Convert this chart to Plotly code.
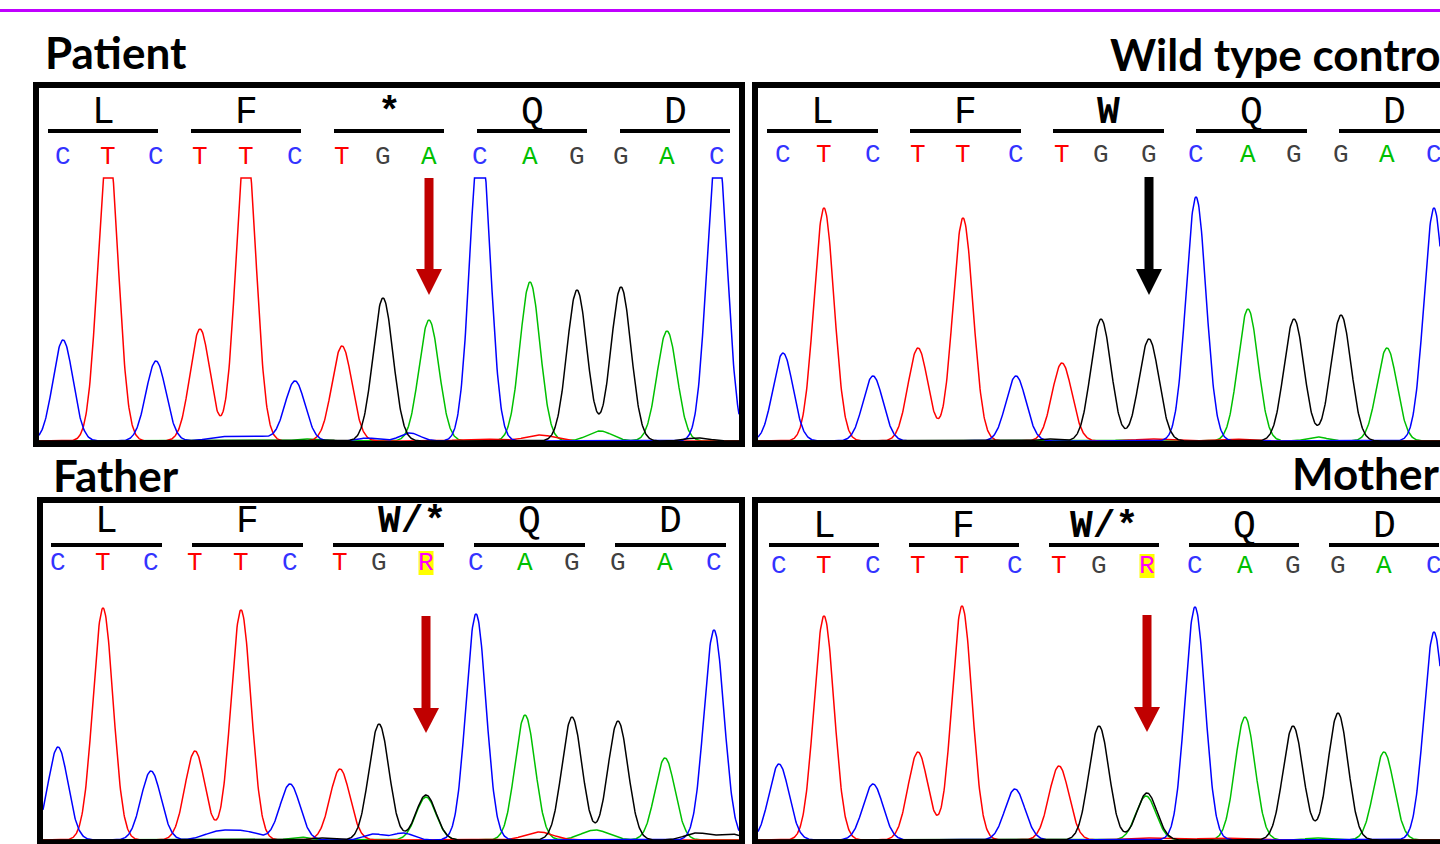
import numpy as np
import plotly.graph_objects as go

# ---------------- data ----------------
AA_PATIENT = ["L", "F", "*", "Q", "D"]
AA_WILD = ["L", "F", "W", "Q", "D"]
AA_FATHER = ["L", "F", "W/*", "Q", "D"]
AA_MOTHER = ["L", "F", "W/*", "Q", "D"]
MUTANT_CODON = 2

CALLS_PATIENT = list("CTCTTCTGACAGGAC")
CALLS_WILD = list("CTCTTCTGGCAGGAC")
CALLS_FATHER = list("CTCTTCTGRCAGGAC")
CALLS_MOTHER = list("CTCTTCTGRCAGGAC")
MUTANT_BASE = 8

# scan position of each called peak
SCAN_PATIENT = [24, 69, 117, 161, 207, 256, 303, 344, 390, 441, 491, 538, 582, 628, 678]
SCAN_WILD = [25, 66, 115, 160, 205, 258, 304, 343, 391, 438, 490, 536, 583, 629, 676]
SCAN_FATHER = [15, 60, 108, 152, 198, 247, 297, 336, 383, 433, 482, 529, 575, 622, 671]
SCAN_MOTHER = [21, 66, 115, 160, 204, 257, 301, 341, 389, 437, 487, 535, 580, 626, 676]

# signal of each called peak (R sites: G dye)
SIGNAL_PATIENT = [101, 300, 80, 112, 300, 60, 95, 143, 121, 310, 159, 151, 154, 110, 300]
SIGNAL_WILD = [88, 233, 65, 93, 223, 65, 78, 122, 102, 244, 132, 122, 126, 93, 233]
SIGNAL_FATHER = [93, 232, 69, 89, 230, 56, 71, 116, 45, 226, 125, 123, 119, 82, 210]
SIGNAL_MOTHER = [76, 224, 56, 88, 234, 51, 74, 114, 47, 233, 123, 114, 127, 88, 208]

# secondary / background peaks: (dye, scan, signal, width)
MINOR_PATIENT = [("C", 183, 4, 14), ("C", 216, 5, 14), ("C", 329, 3, 10), ("C", 371, 8, 10),
                 ("A", 266, 2, 10), ("T", 441, 2, 20), ("T", 501, 6, 14), ("A", 561, 10, 12),
                 ("G", 658, 3, 12), ("G", 289, 1, 10)]
MINOR_WILD = [("A", 559, 4, 10), ("T", 392, 2, 15), ("T", 472, 2, 15), ("G", 290, 2, 10), ("A", 365, 1, 10)]
MINOR_FATHER = [("A", 383, 43, 10), ("C", 175, 8, 14), ("C", 202, 8, 14), ("C", 331, 6, 10),
                ("C", 360, 7, 10), ("A", 257, 3, 10), ("G", 277, 2, 10), ("T", 496, 8, 14),
                ("A", 552, 10, 14), ("G", 654, 7, 12), ("G", 687, 6, 12)]
MINOR_MOTHER = [("A", 388, 44, 10), ("T", 387, 2, 20), ("T", 462, 2, 20), ("A", 558, 2, 10)]

# ---------------- styling ----------------
W, H = 1440, 844
PEAK_WIDTH = 10
CLIP = 263
DYE_COLORS = {"A": "#00c000", "T": "#ff0000", "C": "#0000ff", "G": "#000000"}
LETTER_COLORS = {"A": "#00c000", "T": "#ff0000", "C": "#3333ff", "G": "#404040", "R": "#ff00ff"}
MONO = "Liberation Mono, Courier New, monospace"
SANS = "Lato, Carlito, Calibri, sans-serif"

PANELS = [
    dict(title="Patient", calls=CALLS_PATIENT, scans=SCAN_PATIENT, signal=SIGNAL_PATIENT,
         minor=MINOR_PATIENT, aa=AA_PATIENT, inner=(39, 739), ybot=443, ytop=177,
         box=(36, 85, 742, 444), title_xy=(43, 52), aa_y=112, line_y=131, call_y=157,
         codon0=48, step=143, cw=110, aa_first=False, arrow_color="#c00000", arrow=(178, 269, 295)),
    dict(title="Wild type control", calls=CALLS_WILD, scans=SCAN_WILD, signal=SIGNAL_WILD,
         minor=MINOR_WILD, aa=AA_WILD, inner=(758, 1440), ybot=443, ytop=177,
         box=(755, 85, 1460, 444), title_xy=(1108, 54), aa_y=113, line_y=131, call_y=155,
         codon0=767, step=143, cw=111, aa_first=False, arrow_color="#000000", arrow=(177, 269, 295)),
    dict(title="Father", calls=CALLS_FATHER, scans=SCAN_FATHER, signal=SIGNAL_FATHER,
         minor=MINOR_FATHER, aa=AA_FATHER, inner=(43, 739), ybot=842, ytop=576,
         box=(40, 500, 742, 843), title_xy=(51, 475), aa_y=521, line_y=545, call_y=563,
         codon0=51, step=141, cw=111, aa_first=True, arrow_color="#c00000", arrow=(616, 708, 733)),
    dict(title="Mother", calls=CALLS_MOTHER, scans=SCAN_MOTHER, signal=SIGNAL_MOTHER,
         minor=MINOR_MOTHER, aa=AA_MOTHER, inner=(758, 1440), ybot=842, ytop=576,
         box=(755, 500, 1460, 843), title_xy=(1290, 473), aa_y=526, line_y=545, call_y=566,
         codon0=769, step=140, cw=110, aa_first=False, arrow_color="#c00000", arrow=(615, 707, 732)),
]


def px(x):
    return x / W


def py(y):
    return 1 - y / H


fig = go.Figure()
shapes = []
annotations = []
layout_axes = {}

# purple rule at the top
shapes.append(dict(type="line", xref="paper", yref="paper", x0=0, x1=1, y0=py(10.5), y1=py(10.5),
                   line=dict(color="#c000ff", width=3)))

AA_SIZE = 38
CALL_SIZE = 26
TITLE_SIZE = 44

for i, p in enumerate(PANELS, start=1):
    xa = "x" if i == 1 else f"x{i}"
    ya = "y" if i == 1 else f"y{i}"
    left, right = p["inner"]
    xmax = right - left
    layout_axes["xaxis" if i == 1 else f"xaxis{i}"] = dict(
        domain=[px(left), min(1, px(right))], range=[0, xmax], visible=False,
        anchor=ya, fixedrange=True)
    layout_axes["yaxis" if i == 1 else f"yaxis{i}"] = dict(
        domain=[py(p["ybot"]), py(p["ytop"])], range=[-2, p["ybot"] - p["ytop"] - 2],
        visible=False, anchor=xa, fixedrange=True)

    xs = np.arange(0, xmax + 0.5, 0.5)
    for dye in ["A", "T", "C", "G"]:
        ys = np.zeros_like(xs, dtype=float)
        for call, s, h in zip(p["calls"], p["scans"], p["signal"]):
            ch = "G" if call == "R" else call
            if ch == dye:
                ys += h * np.exp(-(xs - s) ** 2 / (2 * PEAK_WIDTH ** 2))
        for d, s, h, w in p["minor"]:
            if d == dye:
                ys += h * np.exp(-(xs - s) ** 2 / (2 * w ** 2))
        ys = np.minimum(ys, CLIP)
        fig.add_trace(go.Scatter(x=xs, y=ys, mode="lines", xaxis=xa, yaxis=ya,
                                 line=dict(color=DYE_COLORS[dye], width=1.5),
                                 hoverinfo="skip", showlegend=False))

    # panel title
    tx, ty = p["title_xy"]
    annotations.append(dict(text=f"<b>{p['title']}</b>", xref="paper", yref="paper",
                            x=px(tx), y=py(ty), xanchor="left", yanchor="middle", showarrow=False,
                            font=dict(family=SANS, size=TITLE_SIZE, color="#000000")))

    # amino acids and underlines
    for k, aa in enumerate(p["aa"]):
        x0 = p["codon0"] + k * p["step"]
        x1 = x0 + p["cw"]
        shapes.append(dict(type="line", xref="paper", yref="paper", x0=px(x0), x1=px(x1),
                           y0=py(p["line_y"]), y1=py(p["line_y"]), line=dict(color="#000000", width=4)))
        label = f"<b>{aa}</b>" if k == MUTANT_CODON else aa
        cx = (x0 + x1) / 2
        if p["aa_first"] and len(aa) > 1:
            annotations.append(dict(text=label, xref="paper", yref="paper", x=px(cx - 0.3 * AA_SIZE - 1),
                                    y=py(p["aa_y"]), xanchor="left", yanchor="middle", showarrow=False,
                                    font=dict(family=MONO, size=AA_SIZE, color="#000000")))
        else:
            annotations.append(dict(text=label, xref="paper", yref="paper", x=px(cx),
                                    y=py(p["aa_y"]), xanchor="center", yanchor="middle", showarrow=False,
                                    font=dict(family=MONO, size=AA_SIZE, color="#000000")))

    # base calls
    for call, s in zip(p["calls"], p["scans"]):
        if call == "R":
            shapes.append(dict(type="rect", xref=xa, yref="paper", x0=s - 7.5, x1=s + 7.5,
                               y0=py(p["call_y"] + 12), y1=py(p["call_y"] - 12),
                               fillcolor="#ffff00", line=dict(width=0)))
        annotations.append(dict(text=call, xref=xa, yref="paper", x=s, y=py(p["call_y"]),
                                xanchor="center", yanchor="middle", showarrow=False,
                                font=dict(family=MONO, size=CALL_SIZE, color=LETTER_COLORS[call])))

    # arrow at the mutation site
    sx = p["scans"][MUTANT_BASE]
    a_top, a_head, a_tip = p["arrow"]
    shapes.append(dict(type="rect", xref=xa, yref="paper", x0=sx - 4.5, x1=sx + 4.5,
                       y0=py(a_head + 1), y1=py(a_top), fillcolor=p["arrow_color"], line=dict(width=0)))
    shapes.append(dict(type="path", xref=xa, yref="paper",
                       path=f"M {sx - 13},{py(a_head)} L {sx + 13},{py(a_head)} L {sx},{py(a_tip)} Z",
                       fillcolor=p["arrow_color"], line=dict(width=0)))

    # frame
    bx0, by0, bx1, by1 = p["box"]
    shapes.append(dict(type="rect", xref="paper", yref="paper", x0=px(bx0), x1=px(bx1),
                       y0=py(by1), y1=py(by0), line=dict(color="#000000", width=6),
                       fillcolor="rgba(0,0,0,0)"))

fig.update_layout(
    width=W, height=H, margin=dict(l=0, r=0, t=0, b=0),
    paper_bgcolor="#ffffff", plot_bgcolor="rgba(0,0,0,0)",
    shapes=shapes, annotations=annotations, showlegend=False,
    **layout_axes,
)

fig.write_html("out.html", config={"displayModeBar": False},
               post_script="document.body.style.margin='0';document.body.style.overflow='hidden';")
